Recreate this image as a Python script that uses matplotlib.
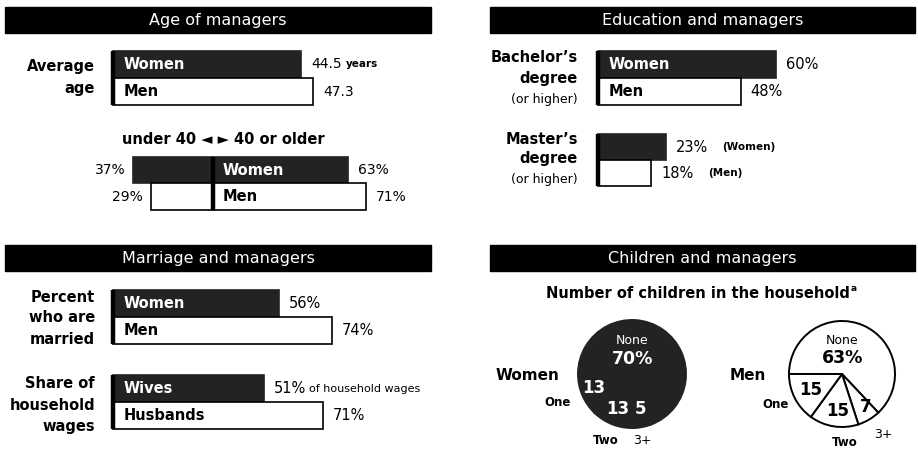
import matplotlib
matplotlib.use('Agg')
import matplotlib.pyplot as plt
from matplotlib.patches import Rectangle

plt.rcParams['font.family'] = ['DejaVu Sans']

W, H = 918, 453
DARK = '#232323'

# ---------------- data ----------------
age_groups = ['Women', 'Men']
avg_age = [44.5, 47.3]
age_value_labels = ['44.5', '47.3']
under40 = [37, 29]
over40 = [63, 71]

edu_groups = ['Women', 'Men']
bachelors = [60, 48]
masters = [23, 18]

married_groups = ['Women', 'Men']
married = [56, 74]
wage_groups = ['Wives', 'Husbands']
wage_share = [51, 71]

child_cats = ['None', '3+', 'Two', 'One']
women_children = [70, 5, 13, 13]
men_children = [63, 7, 15, 15]

# ---------------- figure ----------------
fig = plt.figure(figsize=(9.18, 4.53), dpi=100)
bg = fig.add_axes([0, 0, 1, 1])
bg.set_xlim(0, W)
bg.set_ylim(H, 0)
bg.axis('off')
bg.patch.set_visible(False)
bg.set_zorder(10)


def px_axes(x0, y0, x1, y1):
    ax = fig.add_axes([x0 / W, 1 - y1 / H, (x1 - x0) / W, (y1 - y0) / H])
    ax.axis('off')
    ax.patch.set_visible(False)
    return ax


def header(x, y, w, h, title):
    bg.add_patch(Rectangle((x, y), w, h, color='black'))
    bg.text(x + w / 2, y + h / 2 + 0.5, title, color='white', fontsize=11.5,
            ha='center', va='center')


def bar_group(x0, y_top, y_bot, scale, xmax, values, names, labels,
              name_size=10.5, val_size=10.5):
    ax = px_axes(x0, y_top, x0 + scale * xmax, y_bot)
    n = len(values)
    ax.set_xlim(0, xmax)
    ax.set_ylim(n - 0.5, -0.5)
    colors = [DARK, 'white']
    edges = [DARK, 'black']
    bars = ax.barh(range(n), values, height=1.0, color=colors,
                   edgecolor=edges, linewidth=1.2)
    for b in bars:
        b.set_clip_on(False)
    ax.plot([0, 0], [-0.5, n - 0.5], color='black', lw=3.2,
            solid_capstyle='butt', clip_on=False)
    texts = []
    for i, (v, nm, lb) in enumerate(zip(values, names, labels)):
        ax.annotate(nm, (0, i), xytext=(11, 0), textcoords='offset pixels',
                    va='center', ha='left', fontsize=name_size,
                    fontweight='bold',
                    color='white' if i == 0 else 'black')
        t = ax.annotate(lb, (v, i), xytext=(10, 0), textcoords='offset pixels',
                        va='center', ha='left', fontsize=val_size)
        texts.append(t)
    return ax, texts


def row_label(x, ys, lines, weights, sizes):
    for y, ln, w, s in zip(ys, lines, weights, sizes):
        bg.text(x, y, ln, ha='right', va='center', fontsize=s, fontweight=w)


# ---------------- Age of managers ----------------
header(5, 7, 426, 25.5, 'Age of managers')
row_label(95, [67, 89], ['Average', 'age'], ['bold', 'bold'], [10.5, 10.5])
ax, texts = bar_group(113, 51, 105, 4.23, 60, avg_age, age_groups,
                      age_value_labels, val_size=10)
ax.annotate('years', xy=(1, 0.5), xycoords=texts[0], xytext=(4, 0),
            textcoords='offset pixels', va='center', ha='left', fontsize=7.5,
            fontweight='bold')

bg.text(223, 140, 'under 40 \u25C4 \u25BA 40 or older', ha='center',
        va='center', fontsize=10.5, fontweight='bold')

axd = px_axes(213 - 2.15 * 60, 157, 213 + 2.15 * 85, 210)
axd.set_xlim(-60, 85)
axd.set_ylim(1.5, -0.5)
cols = [DARK, 'white']
edg = [DARK, 'black']
b1 = axd.barh(range(2), [-u for u in under40], height=1.0, color=cols,
              edgecolor=edg, linewidth=1.2)
b2 = axd.barh(range(2), over40, height=1.0, color=cols, edgecolor=edg,
              linewidth=1.2)
for b in list(b1) + list(b2):
    b.set_clip_on(False)
axd.plot([0, 0], [-0.5, 1.5], color='black', lw=3.2, solid_capstyle='butt',
         clip_on=False)
for i in range(2):
    axd.annotate(f'{under40[i]}%', (-under40[i], i), xytext=(-8, 0),
                 textcoords='offset pixels', va='center', ha='right',
                 fontsize=10)
    axd.annotate(f'{over40[i]}%', (over40[i], i), xytext=(10, 0),
                 textcoords='offset pixels', va='center', ha='left',
                 fontsize=10)
    axd.annotate(age_groups[i], (0, i), xytext=(10, 0),
                 textcoords='offset pixels', va='center', ha='left',
                 fontsize=10.5, fontweight='bold',
                 color='white' if i == 0 else 'black')

# ---------------- Education and managers ----------------
header(490, 7, 425, 25.5, 'Education and managers')
row_label(578, [57, 78, 99], ["Bachelor\u2019s", 'degree', '(or higher)'],
          ['bold', 'bold', 'normal'], [10.5, 10.5, 9])
bar_group(598, 51, 105, 2.97, 100, bachelors, edu_groups,
          [f'{v}%' for v in bachelors])

row_label(578, [139, 159, 180], ["Master\u2019s", 'degree', '(or higher)'],
          ['bold', 'bold', 'normal'], [10.5, 10.5, 9])
axm, mt = bar_group(598, 134, 186, 2.97, 100, masters, ['', ''],
                    [f'{v}%' for v in masters])
for t, extra, dx in zip(mt, ['(Women)', '(Men)'], [14, 14]):
    axm.annotate(extra, xy=(1, 0.5), xycoords=t, xytext=(dx, 0),
                 textcoords='offset pixels', va='center', ha='left',
                 fontsize=7.5, fontweight='bold')

# ---------------- Marriage and managers ----------------
header(5, 245, 426, 26, 'Marriage and managers')
row_label(95, [297, 318, 339], ['Percent', 'who are', 'married'],
          ['bold'] * 3, [10.5] * 3)
bar_group(113, 290, 344, 2.96, 100, married, married_groups,
          [f'{v}%' for v in married])

row_label(95, [384, 405, 426], ['Share of', 'household', 'wages'],
          ['bold'] * 3, [10.5] * 3)
axw, wt = bar_group(113, 375, 429, 2.96, 100, wage_share, wage_groups,
                    [f'{v}%' for v in wage_share])
axw.annotate('of household wages', xy=(1, 0.5), xycoords=wt[0],
             xytext=(3, 0), textcoords='offset pixels', va='center',
             ha='left', fontsize=8)

# ---------------- Children and managers ----------------
header(490, 245, 425, 26, 'Children and managers')
st = bg.text(698, 294, 'Number of children in the household', ha='center',
             va='center', fontsize=10.5, fontweight='bold')
bg.annotate('a', xy=(1, 0.85), xycoords=st, xytext=(1, 0),
            textcoords='offset pixels', ha='left', va='center', fontsize=6.5,
            fontweight='bold')


def pie(cx, cy, r, values, face, edge):
    ax = px_axes(cx - r - 2, cy - r - 2, cx + r + 2, cy + r + 2)
    ax.pie(values, startangle=180, counterclock=False, colors=[face] * 4,
           radius=r / (r + 2),
           wedgeprops=dict(edgecolor=edge, linewidth=1.4))
    ax.set_xlim(-1, 1)
    ax.set_ylim(-1, 1)
    return ax


pie(632, 374, 54, women_children, DARK, DARK)
pie(842, 374, 53, men_children, 'white', 'black')

# women pie labels
bg.text(527, 375, 'Women', ha='center', va='center', fontsize=11,
        fontweight='bold')
bg.text(632, 340, 'None', ha='center', va='center', fontsize=9,
        color='white')
bg.text(633, 359, f'{women_children[0]}%', ha='center', va='center',
        fontsize=12.5, fontweight='bold', color='white')
bg.text(594, 388, f'{women_children[3]}', ha='center', va='center',
        fontsize=12, fontweight='bold', color='white')
bg.text(618, 409, f'{women_children[2]}', ha='center', va='center',
        fontsize=12, fontweight='bold', color='white')
bg.text(641, 409, f'{women_children[1]}', ha='center', va='center',
        fontsize=12, fontweight='bold', color='white')
bg.text(558, 403, 'One', ha='center', va='center', fontsize=8.5,
        fontweight='bold')
bg.text(606, 440, 'Two', ha='center', va='center', fontsize=8.5,
        fontweight='bold')
bg.text(642, 440, '3+', ha='center', va='center', fontsize=9)

# men pie labels
bg.text(748, 375, 'Men', ha='center', va='center', fontsize=11,
        fontweight='bold')
bg.text(842, 341, 'None', ha='center', va='center', fontsize=9)
bg.text(843, 358, f'{men_children[0]}%', ha='center', va='center',
        fontsize=12.5, fontweight='bold')
bg.text(811, 390, f'{men_children[3]}', ha='center', va='center',
        fontsize=12, fontweight='bold')
bg.text(838, 411, f'{men_children[2]}', ha='center', va='center',
        fontsize=12, fontweight='bold')
bg.text(866, 407, f'{men_children[1]}', ha='center', va='center',
        fontsize=12, fontweight='bold')
bg.text(776, 404, 'One', ha='center', va='center', fontsize=8.5,
        fontweight='bold')
bg.text(845, 443, 'Two', ha='center', va='center', fontsize=8.5,
        fontweight='bold')
bg.text(883, 434, '3+', ha='center', va='center', fontsize=9)

fig.savefig('out.png', dpi=100, facecolor='white')
